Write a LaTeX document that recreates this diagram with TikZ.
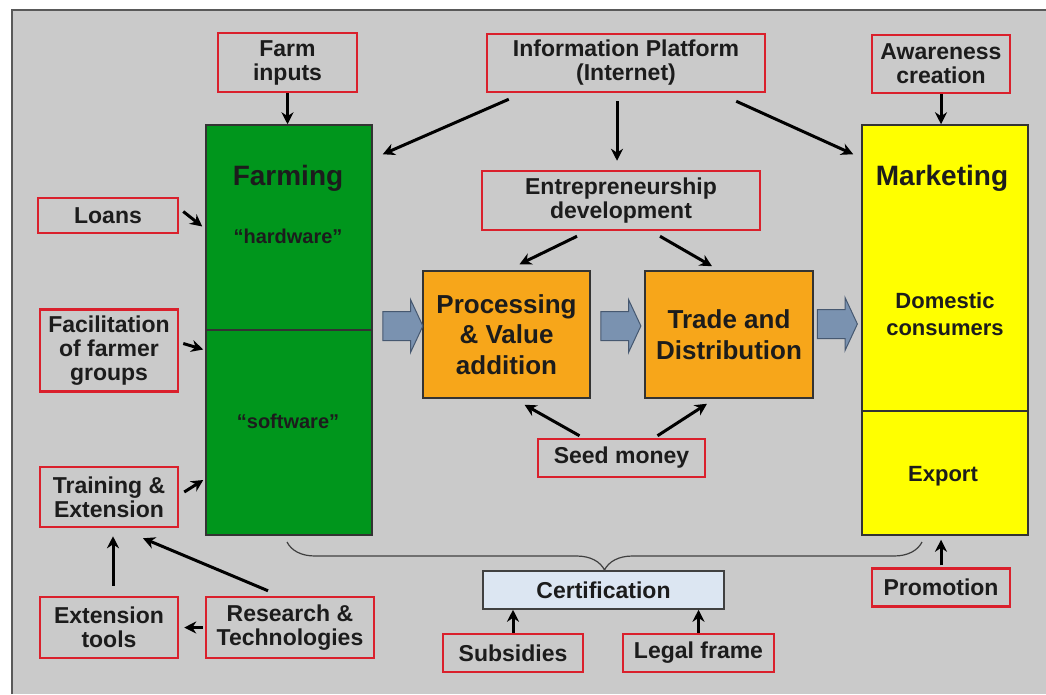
\documentclass[tikz,border=0pt]{standalone}
\usepackage{fontspec}
\setmainfont{Liberation Sans}
\usetikzlibrary{arrows.meta,calc,shapes.arrows,decorations.pathreplacing}

\definecolor{bggray}{RGB}{202,202,202}
\definecolor{boxred}{RGB}{218,32,44}
\definecolor{textdark}{RGB}{28,28,28}
\definecolor{farmgreen}{RGB}{0,150,28}
\definecolor{marketyellow}{RGB}{255,255,0}
\definecolor{chainorange}{RGB}{247,166,26}
\definecolor{steelblue}{RGB}{122,146,176}
\definecolor{steeldark}{RGB}{70,88,112}
\definecolor{certblue}{RGB}{220,230,242}

\tikzset{
  redbox/.style={draw=boxred, line width=2.5pt, fill=bggray, align=center, inner sep=0pt,
    text=textdark, font=\bfseries\fontsize{23}{24}\selectfont},
  bigbox/.style={draw=black!80, line width=1.5pt, inner sep=0pt,
    minimum width=166pt, minimum height=410pt},
  chainbox/.style={draw=black!80, line width=1.5pt, fill=chainorange, align=center, inner sep=0pt,
    minimum height=127pt, text=textdark, font=\bfseries\fontsize{26}{30.5}\selectfont},
  fatarrow/.style={single arrow, draw=steeldark, line width=1pt, fill=steelblue,
    inner xsep=0pt, inner ysep=14pt, minimum height=40pt,
    single arrow head extend=12pt, single arrow tip angle=130},
  arr/.style={line width=3pt, draw=black, -{Stealth[length=12pt,width=12pt]}},
  boxtext/.style={text=textdark, align=center, font=\bfseries\fontsize{22}{27}\selectfont},
}

\begin{document}
\begin{tikzpicture}[x=1pt,y=-1pt]
  % Background
  \useasboundingbox (0,0) rectangle (1046,694);
  \fill[white] (0,0) rectangle (1046,694);
  \fill[bggray] (12,10) rectangle (1046,694);
  \draw[black!65, line width=2pt] (12,694) -- (12,10) -- (1046,10);

  % Nodes
  \node[redbox, minimum width=139pt, minimum height=59pt] (farm) at (287.5,62.5) {Farm\\inputs};
  \node[redbox, minimum width=278pt, minimum height=58pt] (info) at (626,63) {Information Platform\\(Internet)};
  \node[redbox, minimum width=138pt, minimum height=58pt] (aware) at (941,64) {Awareness\\creation};
  \node[redbox, minimum width=140pt, minimum height=35pt] (loans) at (108,215.5) {Loans};
  \node[redbox, minimum width=138pt, minimum height=82pt] (facil) at (109,350.5) {Facilitation\\of farmer\\groups};
  \node[redbox, minimum width=138pt, minimum height=60pt] (train) at (109,497) {Training \&\\Extension};
  \node[redbox, minimum width=138pt, minimum height=61pt] (tools) at (109,627.5) {Extension\\tools};
  \node[redbox, minimum width=168pt, minimum height=61pt] (research) at (290,627.5) {Research \&\\Technologies};
  \node[redbox, minimum width=278pt, minimum height=59pt] (entre) at (621,200.5) {Entrepreneurship\\development};
  \node[redbox, minimum width=167pt, minimum height=38pt] (seed) at (621.5,458) {Seed money};
  \node[redbox, minimum width=140pt, minimum height=38pt] (subs) at (513,653) {Subsidies};
  \node[redbox, minimum width=151pt, minimum height=38pt] (legal) at (698.5,653) {Legal frame};
  \node[redbox, minimum width=138pt, minimum height=38pt] (promo) at (941,587.5) {Promotion};
  \node[redbox, draw=black!75, line width=1.5pt, fill=certblue, minimum width=241pt, minimum height=38pt] (cert) at (603.5,590) {Certification};

  \node[bigbox, fill=farmgreen] (farming) at (289,330) {};
  \draw[black!80, line width=1.5pt] (farming.west) -- (farming.east);
  \node[boxtext, font=\bfseries\fontsize{28}{30}\selectfont] (farmtitle) at (288,178) {Farming};
  \node[boxtext, font=\bfseries\fontsize{20}{24}\selectfont] (hard) at (288,236) {“hardware”};
  \node[boxtext, font=\bfseries\fontsize{20}{24}\selectfont] (soft) at (288,421) {“software”};

  \node[bigbox, fill=marketyellow] (market) at (945,330) {};
  \draw[black!80, line width=1.5pt] (market.west |- 0,411) -- (market.east |- 0,411);
  \node[boxtext, font=\bfseries\fontsize{28}{30}\selectfont] (markettitle) at (942,178) {Marketing};
  \node[boxtext] (domestic) at (945,314) {Domestic\\consumers};
  \node[boxtext] (export) at (943,476) {Export};

  \node[chainbox, minimum width=167pt] (proc) at (506.5,334.5) {Processing\\\& Value\\addition};
  \node[chainbox, minimum width=168pt] (trade) at (729,334.5) {Trade and\\Distribution};

  \node[fatarrow] (fa1) at (399.5,326) {};
  \node[fatarrow] (fa2) at (617.5,326) {};
  \node[fatarrow] (fa3) at (834,324) {};

  % Arrows
  \draw[arr] (farm) -- (farm |- farming.north);
  \draw[arr] ($(info.south west)+(23,6)$) -- ($(farming.north east)+(10,30)$);
  \draw[arr] ($(info.south)+(-9,8)$) -- ($(entre.north)+(-4,-9)$);
  \draw[arr] ($(info.south east)+(-30,8)$) -- ($(market.north west)+(-8,30)$);
  \draw[arr] (aware) -- (aware |- market.north);
  \draw[arr] ($(loans.east)+(4,-4)$) -- ($(farming.west |- loans.east)+(-3,11)$);
  \draw[arr] ($(facil.east)+(4,-7)$) -- ($(farming.west |- facil.east)+(-2,-1)$);
  \draw[arr] ($(train.east)+(5,-5)$) -- ($(farming.west |- train.east)+(-2,-17)$);
  \draw[arr] ($(tools.north)+(4,-10)$) -- ($(train.south)+(4,8)$);
  \draw[arr] ($(research.north)+(-22,-5)$) -- ($(train.south)+(34,10)$);
  \draw[arr] ($(research.west)+(-2,0)$) -- ($(tools.east)+(5,0)$);
  \draw[arr] ($(entre.south)+(-44,5)$) -- ($(proc.north)+(13,-6)$);
  \draw[arr] ($(entre.south)+(39,5)$) -- ($(trade.north)+(-17,-4)$);
  \draw[arr] ($(seed.north)+(-42,-2)$) -- ($(proc.south)+(18,6)$);
  \draw[arr] ($(seed.north)+(36,-2)$) -- ($(trade.south)+(-22,5)$);
  \draw[arr] (subs.north) -- (subs.north |- cert.south);
  \draw[arr] (legal.north) -- (legal.north |- cert.south);
  \draw[arr] ($(promo.north)+(0,-2)$) -- ($(promo.north |- market.south)+(0,4)$);

  % Brace
  \draw[black!75, line width=1.2pt, decorate, decoration={brace, amplitude=28pt, aspect=0.5}]
    (922,542) -- (287,542);
\end{tikzpicture}
\end{document}
